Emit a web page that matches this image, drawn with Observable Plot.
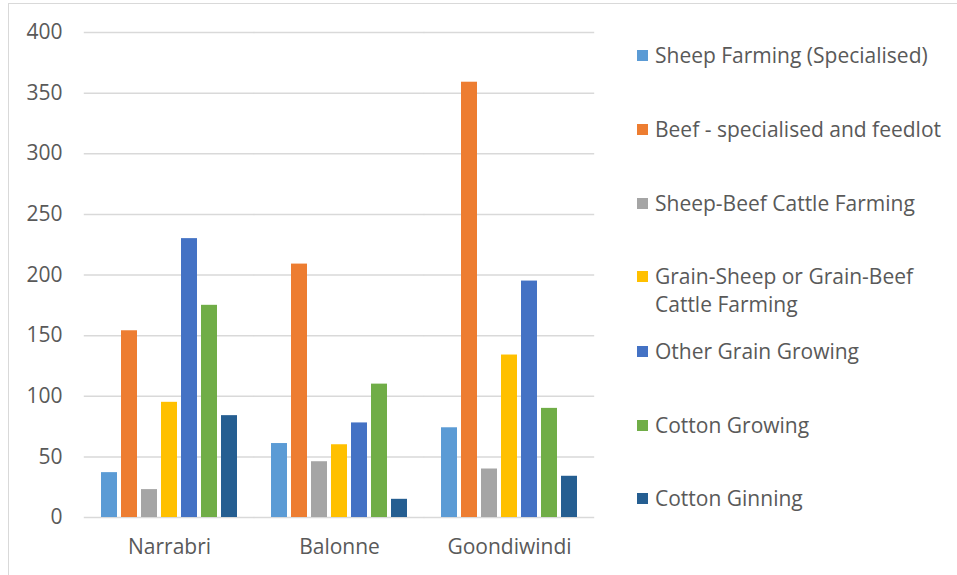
<!DOCTYPE html>
<html>
<head>
<meta charset="utf-8">
<script src="https://cdn.jsdelivr.net/npm/d3@7"></script>
<script src="https://cdn.jsdelivr.net/npm/@observablehq/plot@0.6"></script>
<style>
  html, body { margin: 0; padding: 0; background: #fff; }
  #chart {
    position: relative; width: 957px; height: 575px; overflow: hidden;
    font-family: "Open Sans", sans-serif; color: #595959;
  }
  #frame {
    position: absolute; left: 8px; top: 3px; right: -2px; bottom: -2px;
    border-left: 1.5px solid #d9d9d9; border-top: 1.5px solid #d9d9d9;
  }
  #plot { position: absolute; left: 0; top: 0; }
  #legend { position: absolute; left: 637px; top: 0; }
  .item { position: absolute; left: 0; display: flex; align-items: flex-start; white-space: nowrap; }
  .swatch { width: 11px; height: 11px; margin-right: 7px; flex: none; }
  .label { font-size: 21px; line-height: 28px; color: #595959; }
</style>
</head>
<body>
<div id="chart">
  <div id="frame"></div>
  <div id="plot"></div>
  <div id="legend"></div>
</div>
<script>
// Regions (one cluster of bars each)
const regions = ["Narrabri", "Balonne", "Goondiwindi"];

// Industries, in legend / bar order
const industries = [
  "Sheep Farming (Specialised)",
  "Beef - specialised and feedlot",
  "Sheep-Beef Cattle Farming",
  "Grain-Sheep or Grain-Beef Cattle Farming",
  "Other Grain Growing",
  "Cotton Growing",
  "Cotton Ginning"
];

// Values per industry, one entry per region (Narrabri, Balonne, Goondiwindi)
const sheepFarming   = [37, 61, 74];
const beefFeedlot    = [154, 209, 359];
const sheepBeef      = [23, 46, 40];
const grainSheepBeef = [95, 60, 134];
const otherGrain     = [230, 78, 195];
const cottonGrowing  = [175, 110, 90];
const cottonGinning  = [84, 15, 34];

const seriesValues = [sheepFarming, beefFeedlot, sheepBeef, grainSheepBeef, otherGrain, cottonGrowing, cottonGinning];

const colors = ["#5B9BD5", "#ED7D31", "#A5A5A5", "#FFC000", "#4472C4", "#70AD47", "#255E91"];

// y-axis ticks
const yTicks = [0, 50, 100, 150, 200, 250, 300, 350, 400];

// Long table for Plot
const data = [];
industries.forEach((ind, i) => {
  regions.forEach((reg, j) => {
    data.push({region: reg, industry: ind, value: seriesValues[i][j]});
  });
});

const chart = Plot.plot({
  width: 610,
  height: 575,
  marginLeft: 84,
  marginRight: 15,
  marginTop: 32,
  marginBottom: 58,
  style: {fontFamily: "'Open Sans', sans-serif", fontSize: "21px", color: "#595959", background: "transparent"},
  fx: {domain: regions, paddingInner: 0.176, paddingOuter: 0.088, label: null, tickSize: 0, tickPadding: 22, axis: "bottom"},
  x: {domain: industries, paddingInner: 0.2, paddingOuter: 0.1, axis: null},
  y: {domain: [0, 400], ticks: yTicks, tickSize: 0, tickPadding: 37, label: null, tickFormat: d => d},
  color: {domain: industries, range: colors},
  marks: [
    // horizontal gridlines, stretched across the gaps between region clusters
    Plot.ruleY(yTicks, {stroke: "#d9d9d9", strokeWidth: 1.5, insetLeft: -15.2, insetRight: -15.2}),
    Plot.barY(data, {fx: "region", x: "industry", y: "value", fill: "industry"})
  ]
});
document.getElementById("plot").appendChild(chart);

// Legend on the right
const legendRows = [
  {top: 41, lines: ["Sheep Farming (Specialised)"]},
  {top: 115, lines: ["Beef - specialised and feedlot"]},
  {top: 189, lines: ["Sheep-Beef Cattle Farming"]},
  {top: 262, lines: ["Grain-Sheep or Grain-Beef", "Cattle Farming"]},
  {top: 337, lines: ["Other Grain Growing"]},
  {top: 411, lines: ["Cotton Growing"]},
  {top: 484, lines: ["Cotton Ginning"]}
];
const legend = document.getElementById("legend");
legendRows.forEach((row, i) => {
  const item = document.createElement("div");
  item.className = "item";
  item.style.top = row.top + "px";
  const sw = document.createElement("div");
  sw.className = "swatch";
  sw.style.background = colors[i];
  sw.style.marginTop = "8.5px";
  const lab = document.createElement("div");
  lab.className = "label";
  lab.innerHTML = row.lines.join("<br>");
  item.appendChild(sw);
  item.appendChild(lab);
  legend.appendChild(item);
});
</script>
</body>
</html>
